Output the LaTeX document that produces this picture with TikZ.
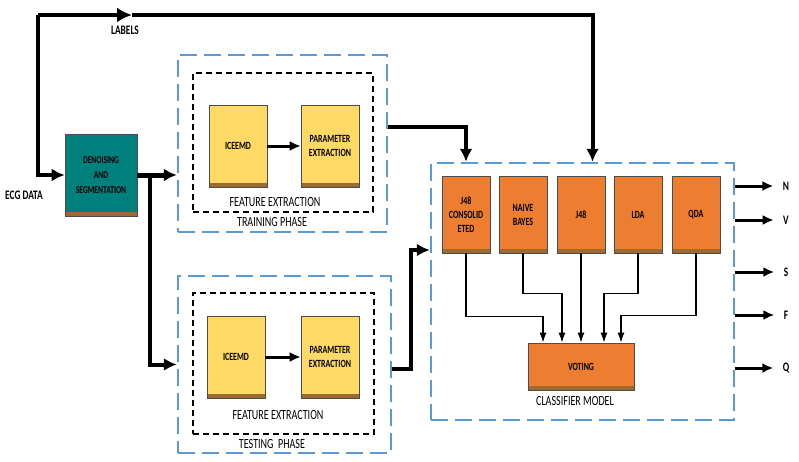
\documentclass[tikz,border=0pt]{standalone}
\usepackage{fontspec}
\setmainfont[FakeStretch=0.72]{Carlito}
\usetikzlibrary{arrows.meta}
\definecolor{phaseblue}{HTML}{5B9BD5}
\definecolor{tealfill}{HTML}{00807C}
\definecolor{orangefill}{HTML}{ED7D31}
\definecolor{yellowfill}{HTML}{FFD966}
\definecolor{stripe}{HTML}{9C6B30}
\begin{document}
\begin{tikzpicture}[x=1pt,y=-1pt,
  block/.style={draw=black!70,line width=0.6pt,align=center,inner sep=1pt,
    font=\bfseries\fontsize{11}{14}\selectfont,
    path picture={\fill[stripe] (path picture bounding box.south west) rectangle ([yshift=4pt]path picture bounding box.south east);}},
  featbox/.style={block,fill=yellowfill,minimum width=58,minimum height=82},
  clsbox/.style={block,fill=orangefill,minimum width=48,minimum height=77},
  phase/.style={draw=phaseblue,line width=2.5pt,dash pattern=on 17pt off 7pt},
  inner/.style={draw=black,line width=1.3pt,dash pattern=on 6pt off 4pt},
  heavy/.style={line width=4pt,-{Latex[length=13pt,width=13pt]}},
  medium/.style={line width=3pt,-{Latex[length=11pt,width=10pt]}},
  light/.style={line width=1.4pt,-{Latex[length=10pt,width=7pt]}},
  txt/.style={font=\fontsize{14}{16}\selectfont},
  btxt/.style={font=\bfseries\fontsize{13}{15}\selectfont}]
\useasboundingbox (0,0) rectangle (799,461);

% input side
\node[block,fill=tealfill,minimum width=72,minimum height=82,font=\bfseries\fontsize{10.5}{15}\selectfont] (dn) at (101,175) {DENOISING\\AND\\SEGMENTATION};
\node[btxt] (ecg) at (24,195) {ECG DATA};
\node[btxt] (lab) at (125,30) {LABELS};
\coordinate (corner) at (38,15);
\coordinate (mid) at (132,15);
\coordinate (split) at (150,175);

% training phase
\node[phase,minimum width=209,minimum height=177] (train) at (282.5,143.5) {};
\node[inner,minimum width=180,minimum height=139] (trfe) at (283,142.5) {};
\node[featbox] (tric) at (238,146) {ICEEMD};
\node[featbox] (trpe) at (330,146) {PARAMETER\\EXTRACTION};
\node[txt] at (275,202) {FEATURE EXTRACTION};
\node[txt] at (272,222) {TRAINING PHASE};

% testing phase
\node[phase,minimum width=213,minimum height=177] (test) at (284.5,364.5) {};
\node[inner,minimum width=181,minimum height=141] (tefe) at (283.5,363.5) {};
\node[featbox] (teic) at (236,357) {ICEEMD};
\node[featbox] (tepe) at (330,357) {PARAMETER\\EXTRACTION};
\node[txt] at (278,415) {FEATURE EXTRACTION};
\node[txt] at (272,444) {TESTING~~PHASE};

% classifier model
\node[phase,minimum width=303,minimum height=257] (cls) at (582.5,291.5) {};
\node[clsbox] (jc) at (466,214.5) {J48\\CONSOLID\\ETED};
\node[clsbox] (nb) at (523,214.5) {NAIVE\\BAYES};
\node[clsbox] (jf) at (581,214.5) {J48};
\node[clsbox] (lda) at (638,214.5) {LDA};
\node[clsbox] (qda) at (696,214.5) {QDA};
\node[block,fill=orangefill,minimum width=106,minimum height=47] (vote) at (581,366.5) {VOTING};
\node[txt] at (575,401) {CLASSIFIER MODEL};

% connectors
\draw[heavy] (corner) |- (dn.west);
\draw[line width=4pt] (mid) -| ([xshift=10pt,yshift=12pt]cls.north);
\draw[heavy] ([xshift=10pt,yshift=12pt]cls.north) -- ([xshift=10pt]cls.north);
\draw[line width=4pt,-{Latex[length=15pt,width=15pt]}] (corner) -- (mid);
\draw[heavy,line width=5pt] (dn.east) -- (train.west |- dn.east);
\draw[heavy] (split) |- (test.west);
\draw[medium] (tric) -- (trpe);
\draw[medium] (teic) -- (tepe);
\draw[heavy] ([yshift=16.5pt]train.east) -| (cls.north -| jc);
\draw[heavy] ([yshift=-4.5pt]test.east) -- ++(19,0) |- ([yshift=41.5pt]cls.west);

\draw[light] (jc.south) -- ++(0,63) -| ([xshift=-38pt]vote.north);
\draw[light] (nb.south) -- ++(0,40) -| ([xshift=-19pt]vote.north);
\draw[light] (jf.south) -- (vote.north);
\draw[light] (lda.south) -- ++(0,40) -| ([xshift=23pt]vote.north);
\draw[light] (qda.south) -- ++(0,62) -| ([xshift=40pt]vote.north);

% outputs
\foreach \cl/\yy in {N/186,V/220,S/272,F/315,Q/368}{
  \node[btxt] (out\cl) at (786,\yy) {\cl};
  \draw[medium] (cls.east |- out\cl) -- ([xshift=-6pt]out\cl.west);
}
\end{tikzpicture}
\end{document}
